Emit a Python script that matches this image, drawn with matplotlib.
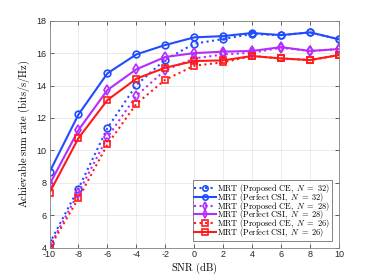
import matplotlib
matplotlib.use("Agg")
import matplotlib.pyplot as plt

plt.rcParams["mathtext.fontset"] = "cm"
plt.rcParams["axes.unicode_minus"] = False

snr = [-10, -8, -6, -4, -2, 0, 2, 4, 6, 8, 10]

ce_32 = [4.25, 7.64, 11.37, 14.03, 15.6, 16.58, 16.87, 17.18, 17.1, 17.28, 16.85]
csi_32 = [8.65, 12.21, 14.75, 15.92, 16.5, 16.97, 17.05, 17.24, 17.11, 17.28, 16.85]
ce_28 = [4.05, 7.38, 10.8, 13.37, 14.95, 15.67, 15.92, 16.02, 16.33, 16.13, 16.25]
csi_28 = [7.89, 11.25, 13.72, 15.0, 15.76, 16.0, 16.09, 16.13, 16.37, 16.13, 16.25]
ce_26 = [3.98, 7.03, 10.36, 12.87, 14.36, 15.22, 15.43, 15.82, 15.67, 15.57, 15.88]
csi_26 = [7.38, 10.75, 13.1, 14.42, 15.1, 15.51, 15.55, 15.82, 15.67, 15.57, 15.88]

xticks = [-10, -8, -6, -4, -2, 0, 2, 4, 6, 8, 10]
yticks = [4, 6, 8, 10, 12, 14, 16, 18]

BLUE = "#1f4cff"
PURPLE = "#b52cff"
RED = "#ff1a1a"


def cm_label(kind, n):
    return r"$\mathrm{MRT\ (%s,}\ N\ \mathrm{=\ %d)}$" % (kind.replace(" ", r"\ "), n)


series = [
    (ce_32, BLUE, ":", "o", cm_label("Proposed CE", 32)),
    (csi_32, BLUE, "-", "o", cm_label("Perfect CSI", 32)),
    (ce_28, PURPLE, ":", "d", cm_label("Proposed CE", 28)),
    (csi_28, PURPLE, "-", "d", cm_label("Perfect CSI", 28)),
    (ce_26, RED, ":", "s", cm_label("Proposed CE", 26)),
    (csi_26, RED, "-", "s", cm_label("Perfect CSI", 26)),
]

fig = plt.figure(figsize=(3.74, 2.79), dpi=100)
ax = fig.add_axes([49.5 / 374, 1 - 247.5 / 279, (339 - 49.5) / 374, (247.5 - 20.7) / 279])

for values, color, ls, marker, label in series:
    ax.plot(snr, values, color=color, linestyle=ls, linewidth=1.5, marker=marker,
            markersize=4.8, markerfacecolor="none", markeredgewidth=1.2, label=label)

ax.set_xlim(-10, 10)
ax.set_ylim(4, 18)
ax.set_xticks(xticks)
ax.set_yticks(yticks)
ax.tick_params(labelsize=6.5, direction="in", length=3, width=0.5, colors="#262626",
               top=True, right=True, pad=2)
for lab in ax.get_xticklabels() + ax.get_yticklabels():
    lab.set_family("Liberation Sans")
ax.grid(True, color="#e3e3e3", linewidth=0.5)
for sp in ax.spines.values():
    sp.set_color("#808080")
    sp.set_linewidth(0.6)

ax.set_xlabel(r"$\mathrm{SNR\ (dB)}$", fontsize=7.5, labelpad=1)
ax.set_ylabel(r"$\mathrm{Achievable\ sum\ rate\ (bits/s/Hz)}$", fontsize=7.5, labelpad=3)

leg = ax.legend(loc="lower right", bbox_to_anchor=(0.975, 0.03), borderaxespad=0,
                fontsize=6.0, frameon=True, fancybox=False, edgecolor="#262626",
                handlelength=2.6, borderpad=0.2, labelspacing=-0.5, handletextpad=0.15,
                markerscale=0.8)
leg.get_frame().set_linewidth(0.5)

fig.savefig("out.png", dpi=100)
